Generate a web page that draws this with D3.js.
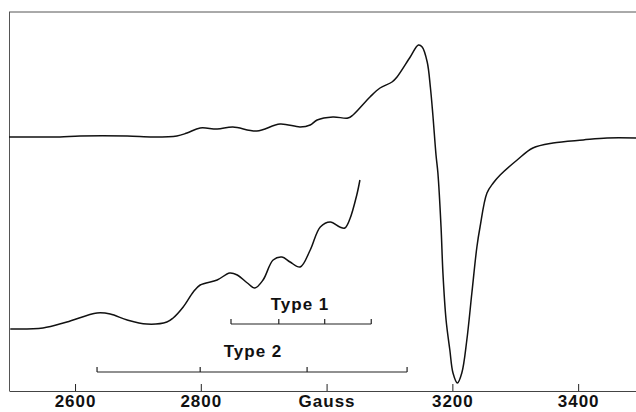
<!DOCTYPE html>
<html lang="en">
<head>
<meta charset="UTF-8">
<title>EPR spectrum</title>
<script src="https://d3js.org/d3.v7.min.js"></script>
<style>
    body { margin: 0; background: #fff; }
    svg text { font-family: "Liberation Sans", Arial, sans-serif; font-weight: bold; fill: #111; }
</style>
</head>
<body>
<script>
// field positions (Gauss) and intensities (arbitrary units)
const upperField = [2495, 2544, 2576, 2608, 2683, 2724, 2762, 2778, 2799, 2826, 2851, 2889, 2926, 2958, 2974, 2985,
    3010, 3034, 3042, 3069, 3085, 3104, 3112, 3133, 3146, 3152, 3160, 3165, 3169, 3174, 3177, 3182, 3185, 3190,
    3196, 3201, 3208, 3215, 3223, 3231, 3239, 3244, 3255, 3265, 3276, 3303, 3328, 3360, 3408, 3446, 3492];
const upperSignal = [0, 0, 0, 1, 1, 0, 1, 4, 9, 8, 10, 6, 13, 10, 12, 17,
    20, 19, 22, 40, 49, 55, 60, 80, 92, 90, 75, 50, 22, -18, -36, -90, -136, -183,
    -213, -236, -246, -236, -203, -156, -110, -90, -56, -46, -38, -23, -11, -6, -3, -1, -1];

// low-field part, magnified
const lowerField = [2497, 2549, 2587, 2635, 2656, 2683, 2714, 2746, 2756, 2772, 2788, 2799, 2826, 2846, 2858,
    2874, 2886, 2899, 2915, 2929, 2942, 2958, 2974, 2990, 3006, 3021, 3029, 3037, 3048, 3053];
const lowerSignal = [-1, 0, 6, 15, 14, 8, 4, 6, 10, 21, 36, 43, 48, 55, 53,
    45, 40, 48, 68, 71, 66, 61, 78, 101, 106, 101, 100, 109, 133, 148];
const lowerOffset = -191;

const fieldTicks = [2600, 2800, 3000, 3200, 3400];
const fieldLabels = ["2600", "2800", "Gauss", "3200", "3400"];

const type1Lines = [2848, 2924, 2997, 3071];
const type2Lines = [2635, 2799, 2969, 3128];

const width = 636, height = 412;
const x = d3.scaleLinear().domain([2495, 3492]).range([9, 636]);
const y = d3.scaleLinear().domain([-254, 125]).range([391, 12]);

const svg = d3.select("body").append("svg")
    .attr("width", width).attr("height", height);

// frame: top and left edges
svg.append("line").attr("x1", 9).attr("x2", 636).attr("y1", 12).attr("y2", 12)
    .attr("stroke", "#555").attr("stroke-width", 1);
svg.append("line").attr("x1", 9.5).attr("x2", 9.5).attr("y1", 12).attr("y2", 391)
    .attr("stroke", "#555").attr("stroke-width", 1);

const xAxis = d3.axisBottom(x)
    .tickValues(fieldTicks)
    .tickFormat((d, i) => fieldLabels[i])
    .tickSizeInner(-7).tickSizeOuter(0).tickPadding(4);

const gx = svg.append("g")
    .attr("transform", "translate(0,391)")
    .call(xAxis);
gx.select(".domain").attr("stroke", "#444");
gx.selectAll(".tick line").attr("stroke", "#222");
gx.selectAll("text")
    .attr("font-size", "17px").attr("letter-spacing", "1px")
    .attr("fill", "#111").attr("font-family", "'Liberation Sans', Arial, sans-serif")
    .attr("font-weight", "bold");

const line = d3.line().curve(d3.curveCatmullRom.alpha(0.5));

svg.append("path")
    .attr("d", line(upperField.map((f, i) => [x(f), y(upperSignal[i])])))
    .attr("fill", "none").attr("stroke", "#111").attr("stroke-width", 1.5);

svg.append("path")
    .attr("d", line(lowerField.map((f, i) => [x(f), y(lowerSignal[i] + lowerOffset)])))
    .attr("fill", "none").attr("stroke", "#111").attr("stroke-width", 1.5);

// stick diagrams
function bracket(fields, yPos, label, labelX, labelY) {
    const g = svg.append("g");
    g.append("line")
        .attr("x1", x(fields[0])).attr("x2", x(fields[fields.length - 1]))
        .attr("y1", yPos).attr("y2", yPos)
        .attr("stroke", "#222").attr("stroke-width", 1.2);
    g.selectAll(".stick").data(fields).enter().append("line")
        .attr("x1", d => x(d)).attr("x2", d => x(d))
        .attr("y1", yPos).attr("y2", yPos - 5)
        .attr("stroke", "#222").attr("stroke-width", 1.2);
    g.append("text")
        .attr("x", labelX).attr("y", labelY)
        .attr("text-anchor", "middle")
        .attr("font-size", "17px").attr("letter-spacing", "1px")
        .text(label);
}

bracket(type1Lines, 324, "Type 1", 300, 310);
bracket(type2Lines, 372, "Type 2", 253, 357);
</script>
</body>
</html>
